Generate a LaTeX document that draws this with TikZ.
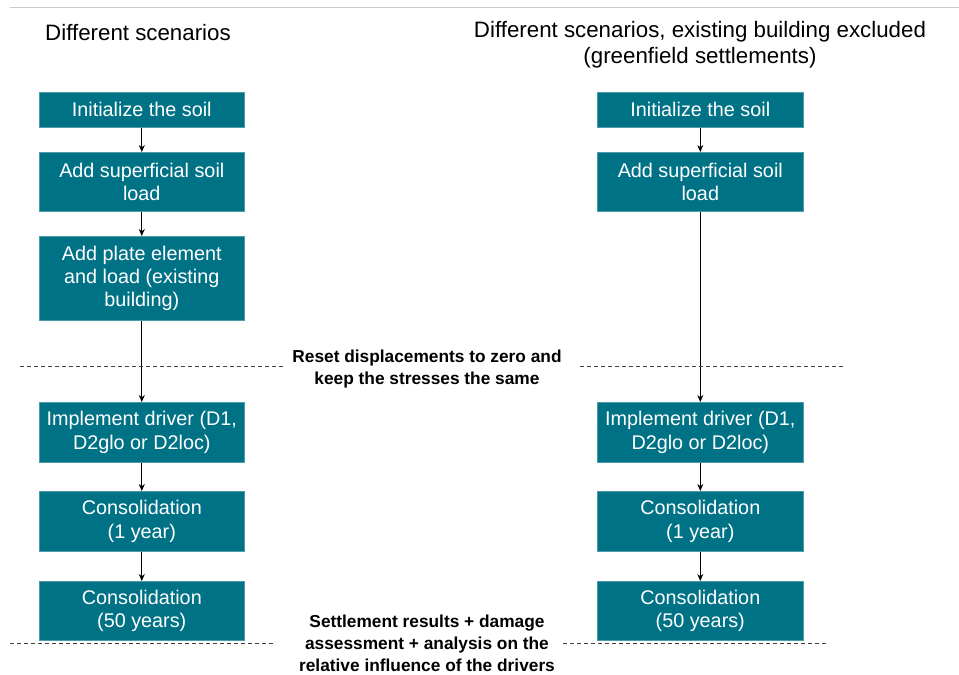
\documentclass[tikz,border=0pt]{standalone}
\usepackage{fontspec}
\setmainfont{Liberation Sans}
\usetikzlibrary{arrows.meta}
\definecolor{teal1}{RGB}{0,114,134}
\definecolor{topgray}{RGB}{200,200,200}
\tikzset{
  stepbox/.style={fill=teal1, draw=teal1!70!white, line width=0.6pt, text=white, align=center,
    font=\fontsize{19.8}{23.2}\selectfont, inner sep=0pt, anchor=north west},
  conn/.style={-{Stealth[length=7pt,width=6pt]}, line width=0.8pt},
  sep/.style={dashed, dash pattern=on 4pt off 3pt, line width=0.7pt, draw=black!75},
  title/.style={font=\fontsize{22.3}{26}\selectfont, align=center},
  note/.style={font=\bfseries\fontsize{17.3}{22}\selectfont, align=center}
}
\begin{document}
\begin{tikzpicture}[x=1pt,y=-1pt]
\useasboundingbox (0,0) rectangle (959,675);
\draw[topgray, line width=0.8pt] (10,7) -- (959,7);
% titles
\node[title] (t1) at (138,33) {Different scenarios};
\node[title] (t2) at (700,45) {Different scenarios, existing building excluded\\(greenfield settlements)};
% left column
\node[stepbox, minimum width=205pt, minimum height=35pt] (l1) at (39,92) {Initialize the soil};
\node[stepbox, minimum width=205pt, minimum height=59pt] (l2) at (39,152) {Add superficial soil\\load};
\node[stepbox, minimum width=205pt, minimum height=84pt] (l3) at (39,236) {Add plate element\\and load (existing\\building)};
\node[stepbox, minimum width=205pt, minimum height=60pt] (l4) at (39,402) {Implement driver (D1,\\D2glo or D2loc)};
\node[stepbox, minimum width=205pt, minimum height=60pt] (l5) at (39,491) {Consolidation\\(1 year)};
\node[stepbox, minimum width=205pt, minimum height=59pt] (l6) at (39,581) {Consolidation\\(50 years)};
% right column
\node[stepbox, minimum width=206pt, minimum height=35pt] (r1) at (597,92) {Initialize the soil};
\node[stepbox, minimum width=206pt, minimum height=59pt] (r2) at (597,152) {Add superficial soil\\load};
\node[stepbox, minimum width=206pt, minimum height=60pt] (r4) at (597,402) {Implement driver (D1,\\D2glo or D2loc)};
\node[stepbox, minimum width=206pt, minimum height=60pt] (r5) at (597,491) {Consolidation\\(1 year)};
\node[stepbox, minimum width=206pt, minimum height=59pt] (r6) at (597,581) {Consolidation\\(50 years)};
% connectors
\draw[conn] (l1) -- (l2);
\draw[conn] (l2) -- (l3);
\draw[conn] (l3) -- (l4);
\draw[conn] (l4) -- (l5);
\draw[conn] (l5) -- (l6);
\draw[conn] (r1) -- (r2);
\draw[conn] (r2) -- (r4);
\draw[conn] (r4) -- (r5);
\draw[conn] (r5) -- (r6);
% separators
\coordinate (s1a) at (20,366); \coordinate (s1b) at (285,366);
\coordinate (s2a) at (580,366); \coordinate (s2b) at (845,366);
\coordinate (s3a) at (10,643); \coordinate (s3b) at (273,643);
\coordinate (s4a) at (563,643); \coordinate (s4b) at (828,643);
\draw[sep] (s1a) -- (s1b);
\draw[sep] (s2a) -- (s2b);
\draw[sep] (s3a) -- (s3b);
\draw[sep] (s4a) -- (s4b);
% notes
\node[note] (n1) at (427,369) {Reset displacements to zero and\\keep the stresses the same};
\node[note] (n2) at (427,643) {Settlement results + damage\\assessment + analysis on the\\relative influence of the drivers};
\end{tikzpicture}
\end{document}
